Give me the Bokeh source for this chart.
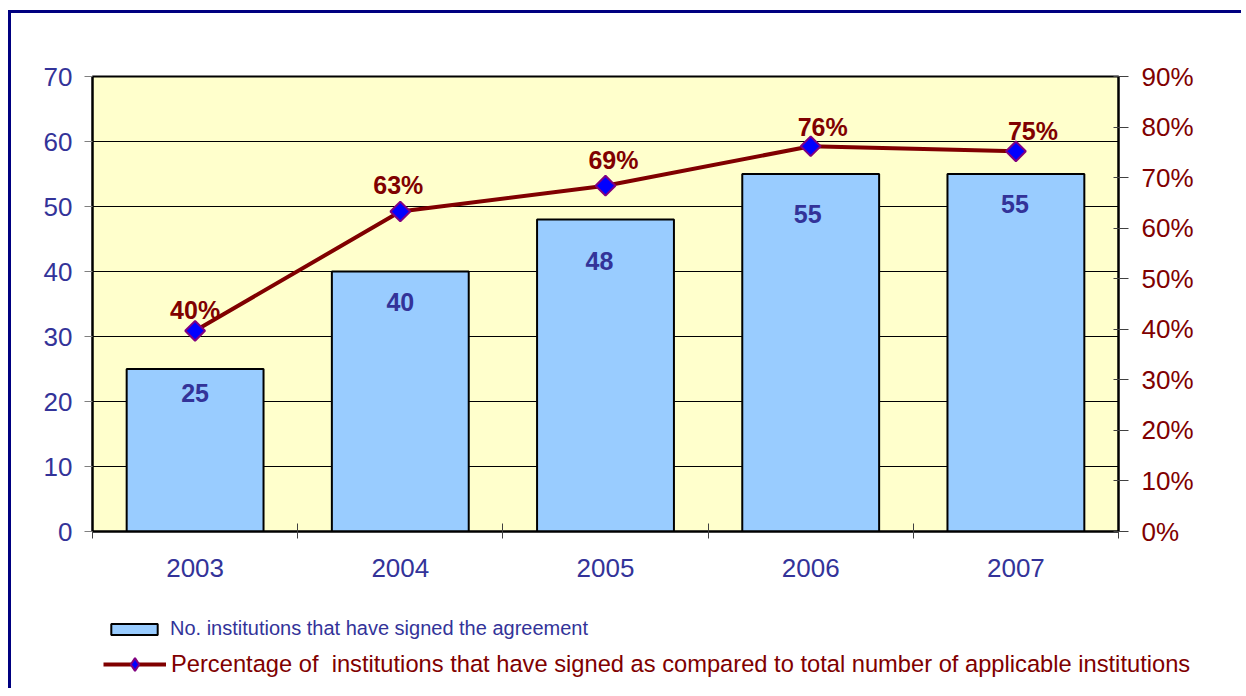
from math import pi
from bokeh.plotting import figure
from bokeh.layouts import column
from bokeh.models import (Range1d, LinearAxis, FixedTicker, ColumnDataSource, Legend,
                          LegendItem, LabelSet, NumeralTickFormatter)
from bokeh.core.properties import value
from bokeh.embed import file_html
from bokeh.resources import INLINE

# ---- data ----
years = ["2003", "2004", "2005", "2006", "2007"]
signed = [25, 40, 48, 55, 55]
pct = [0.397, 0.633, 0.684, 0.762, 0.752]
pct_labels = ["40%", "63%", "69%", "76%", "75%"]
left_ticks = [0, 10, 20, 30, 40, 50, 60, 70]
right_ticks = [0, 0.1, 0.2, 0.3, 0.4, 0.5, 0.6, 0.7, 0.8, 0.9]
bar_label = "No. institutions that have signed the agreement"
line_label = "Percentage of  institutions that have signed as compared to total number of applicable institutions"

# ---- label nudges (pixels, styling only) ----
bar_lbl_dx = [0, 0, -6, -3, -1]
bar_lbl_dy = [-24, -30, -41, -40, -30]
pct_lbl_dx = [0, -2, 8, 12, 17]
pct_lbl_dy = [21, 26, 26, 19, 20]

FONT = "Liberation Sans"
BLUE_TXT = "#333399"
RED = "#800000"
TICK_FS = "26px"
DATA_FS = "25px"
BAR_STYLE = dict(fill_color="#99CCFF", line_color="black", line_width=2)
LINE_STYLE = dict(line_color=RED, line_width=4)
MARK_STYLE = dict(marker="square", angle=pi / 4, size=14, fill_color="#0000FF",
                  line_color="#800080", line_width=2)

idx = list(range(1, len(years) + 1))
src = ColumnDataSource(dict(x=idx, signed=signed, pct=pct,
                            signed_txt=[str(v) for v in signed], pct_txt=pct_labels,
                            bdx=bar_lbl_dx, bdy=bar_lbl_dy, pdx=pct_lbl_dx, pdy=pct_lbl_dy))

# ---------------- main chart ----------------
p = figure(width=1230, height=587, output_backend="svg", toolbar_location=None,
           x_range=Range1d(0.5, len(years) + 0.5), y_range=Range1d(0, 70),
           min_border_left=81, min_border_right=123, min_border_top=63, min_border_bottom=69,
           background_fill_color="#FFFFCC", border_fill_color="white")
p.extra_y_ranges = {"pct": Range1d(0, 0.9)}
p.outline_line_color = "black"
p.outline_line_width = 2

p.xgrid.grid_line_color = None
p.ygrid.ticker = FixedTicker(ticks=left_ticks)
p.ygrid.grid_line_color = "black"
p.ygrid.grid_line_width = 1

ya = p.yaxis[0]
ya.ticker = FixedTicker(ticks=left_ticks)
ya.axis_line_color = "black"
ya.axis_line_width = 2
ya.major_tick_in = 0
ya.major_tick_out = 8
ya.major_tick_line_color = "#808080"
ya.minor_tick_line_color = None
ya.major_label_text_font = FONT
ya.major_label_text_font_size = TICK_FS
ya.major_label_text_color = BLUE_TXT
ya.major_label_standoff = 12

xa = p.xaxis[0]
xa.ticker = FixedTicker(ticks=idx, minor_ticks=[i - 0.5 for i in idx] + [idx[-1] + 0.5])
xa.major_label_overrides = {i: y for i, y in zip(idx, years)}
xa.major_tick_line_color = None
xa.major_tick_in = 0
xa.major_tick_out = 0
xa.minor_tick_in = 8
xa.minor_tick_out = 7
xa.minor_tick_line_color = "#404040"
xa.axis_line_color = "black"
xa.axis_line_width = 2
xa.major_label_text_font = FONT
xa.major_label_text_font_size = TICK_FS
xa.major_label_text_color = BLUE_TXT
xa.major_label_standoff = 20

ra = LinearAxis(y_range_name="pct", ticker=FixedTicker(ticks=right_ticks),
                formatter=NumeralTickFormatter(format="0%"))
ra.axis_line_color = "black"
ra.axis_line_width = 2
ra.major_tick_in = 5
ra.major_tick_out = 10
ra.major_tick_line_color = "#404040"
ra.minor_tick_line_color = None
ra.major_label_text_font = FONT
ra.major_label_text_font_size = TICK_FS
ra.major_label_text_color = RED
ra.major_label_standoff = 13
p.add_layout(ra, "right")

p.vbar(x="x", top="signed", width=0.667, source=src, **BAR_STYLE)
p.add_layout(LabelSet(x="x", y="signed", text="signed_txt", source=src,
                      x_offset="bdx", y_offset="bdy",
                      text_align="center", text_baseline="middle", text_font=value(FONT),
                      text_font_size=DATA_FS, text_font_style="bold", text_color=BLUE_TXT))

p.line(x="x", y="pct", source=src, y_range_name="pct", **LINE_STYLE)
p.scatter(x="x", y="pct", source=src, y_range_name="pct", **MARK_STYLE)
p.add_layout(LabelSet(x="x", y="pct", text="pct_txt", source=src, y_range_name="pct",
                      x_offset="pdx", y_offset="pdy", text_align="center",
                      text_baseline="middle", text_font=value(FONT), text_font_size=DATA_FS,
                      text_font_style="bold", text_color=RED))

# ---------------- legend strip ----------------
lg = figure(width=1230, height=88, output_backend="svg", toolbar_location=None,
            x_range=Range1d(0.5, len(years) + 0.5), y_range=Range1d(-10, -9),
            x_axis_location=None, y_axis_location=None,
            min_border_left=0, min_border_right=0, min_border_top=0, min_border_bottom=0,
            background_fill_color="white", border_fill_color="white")
lg.outline_line_color = None
lg.grid.grid_line_color = None
# same series, hidden in this strip, only to give the legend its glyphs
b_dummy = lg.vbar(x="x", top="signed", width=0.667, source=src, visible=False, **BAR_STYLE)
l_dummy = lg.line(x="x", y="pct", source=src, visible=False, **LINE_STYLE)
m_dummy = lg.scatter(x="x", y="pct", source=src, visible=False,
                     **dict(MARK_STYLE, marker="diamond", angle=0))


def make_legend(items, color, glyph_w, glyph_h, standoff, loc, fs):
    return Legend(items=items, location=loc, orientation="vertical",
                  glyph_width=glyph_w, glyph_height=glyph_h, label_height=glyph_h,
                  label_standoff=standoff, padding=0, margin=0, spacing=0,
                  border_line_color=None, background_fill_alpha=0,
                  label_text_font=FONT, label_text_font_size=fs, label_text_color=color)


lg.add_layout(make_legend([LegendItem(label=bar_label, renderers=[b_dummy])],
                          BLUE_TXT, 58, 14, 7, (94, 48), "20px"))
lg.add_layout(make_legend([LegendItem(label=line_label, renderers=[l_dummy, m_dummy])],
                          RED, 63, 32, 5, (92, 8), "23.7px"))

layout = column(p, column(lg))
layout.styles = {"border-top": "3px solid #000080", "border-left": "3px solid #000080",
                 "margin-left": "8px", "margin-top": "10px"}

open("out.html", "w").write(file_html(layout, INLINE))
